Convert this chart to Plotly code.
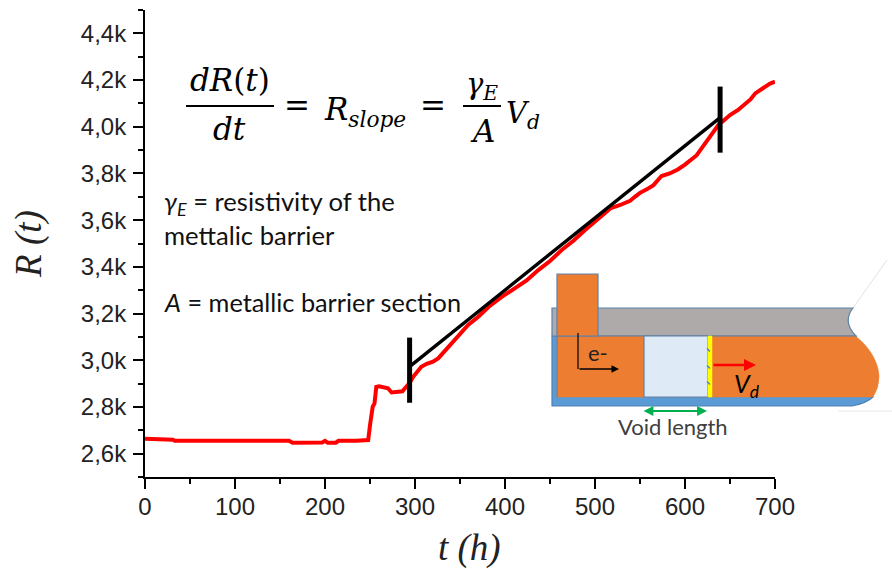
import plotly.graph_objects as go

# ---- chart data ----
t_hours = [0, 29, 31, 33, 100, 160, 164, 190, 197, 200, 203, 212, 215, 235, 244, 248, 250, 253, 255, 257, 260, 265, 270, 274, 281, 286, 289, 294,
           298, 303, 307, 313, 320, 326, 333, 339, 349, 359, 370, 382, 396, 411, 424, 437, 450, 463, 476, 489, 499, 508, 517, 528, 539, 545, 550, 558, 565, 570, 574, 583, 592, 600, 609, 613, 617, 622, 626, 632, 637, 644, 650, 659, 668, 673, 678, 683, 688, 694, 700]
resistance = [2664, 2664, 2660, 2655, 2655, 2655, 2647, 2647, 2648, 2655, 2647, 2647, 2655, 2655, 2655, 2658, 2722, 2801, 2815, 2886, 2888, 2882, 2880, 2862, 2865, 2867, 2881, 2902,
              2929, 2952, 2972, 2985, 2994, 3009, 3040, 3065, 3105, 3151, 3185, 3229, 3270, 3309, 3342, 3386, 3425, 3472, 3512, 3558, 3590, 3622, 3650, 3665, 3683, 3702, 3717, 3733, 3750, 3772, 3789, 3800, 3817, 3838, 3865, 3878, 3900, 3928, 3950, 3982, 4007, 4030, 4050, 4072, 4100, 4118, 4143, 4155, 4171, 4184, 4193]

fit_t = [294, 639]
fit_r = [2973, 4039]
bar_left_t = [294, 294]
bar_left_r = [2818, 3097]
bar_right_t = [639, 639]
bar_right_r = [3889, 4172]

x_ticks = [0, 100, 200, 300, 400, 500, 600, 700]
y_ticks = [2600, 2800, 3000, 3200, 3400, 3600, 3800, 4000, 4200, 4400]
y_labels = ["2,6k", "2,8k", "3,0k", "3,2k", "3,4k", "3,6k", "3,8k", "4,0k", "4,2k", "4,4k"]

W, H = 892, 569
L, R, T, B = 145, 117, 10, 92
PW, PH = W - L - R, H - T - B


def px(x):
    return (x - L) / PW


def py(y):
    return 1 - (y - T) / PH


fig = go.Figure()
fig.add_trace(go.Scatter(x=t_hours, y=resistance, mode="lines", line=dict(color="#ff0000", width=4), showlegend=False))
fig.add_trace(go.Scatter(x=fit_t, y=fit_r, mode="lines", line=dict(color="#000000", width=3.4), showlegend=False))
fig.add_trace(go.Scatter(x=bar_left_t, y=bar_left_r, mode="lines", line=dict(color="#000000", width=5), showlegend=False))
fig.add_trace(go.Scatter(x=bar_right_t, y=bar_right_r, mode="lines", line=dict(color="#000000", width=5), showlegend=False))


def path(points, close=True):
    s = ""
    for p in points:
        if isinstance(p, str):
            s += p + " "
        else:
            s += f"{px(p[0]):.5f},{py(p[1]):.5f} "
    return s + ("Z" if close else "")


EDGE = "#5b82ad"
shapes = []


def add_path(points, fill, edge=EDGE, w=1.2):
    shapes.append(dict(type="path", xref="paper", yref="paper", path=path(points), fillcolor=fill,
                       line=dict(color=edge, width=w), layer="above"))


def add_rect(x0, y0, x1, y1, fill, edge=EDGE, w=1.2):
    add_path(["M", (x0, y0), "L", (x1, y0), "L", (x1, y1), "L", (x0, y1)], fill, edge, w)


def add_line(x0, y0, x1, y1, color, w):
    shapes.append(dict(type="line", xref="paper", yref="paper", x0=px(x0), y0=py(y0), x1=px(x1), y1=py(y1),
                       line=dict(color=color, width=w), layer="above"))


# inset diagram
add_line(887, 260, 853, 308, "#e2e2e2", 1)
add_line(838, 411, 892, 411, "#e8e8e8", 1)
add_path(["M", (552, 336), "L", (856, 336), "L", (873, 397), "Q", (867, 403), (852, 406), "L", (552, 406)], "#5b9bd5", "#4f81b5")
add_path(["M", (552, 308), "L", (853, 308), "Q", (842, 322), (856, 336), "L", (552, 336)], "#aeaaaa")
add_path(["M", (557, 336), "L", (855, 336), "C", (868, 345), (879, 362), (879, 377), "Q", (879, 388), (873, 397), "L", (557, 397)], "#ed7d31", "#ed7d31", 0.5)
add_line(557, 336, 855, 336, EDGE, 1.2)
add_line(557, 336, 557, 397, EDGE, 1.2)
add_rect(557, 274, 598, 336, "#ed7d31")
add_rect(644, 336, 708, 397, "#deebf7")
add_rect(708, 336, 712, 397, "#ffff00", "#ffff00", 0.5)
for dot_y in (350, 367, 383):
    add_line(707, dot_y - 1.5, 710, dot_y + 1.5, "#5b82ad", 1.5)
add_line(578, 333, 578, 369, "#000000", 1.2)

annotations = []


def text(x, y, s, size, family="Lato", color="#111111", xanchor="center", yanchor="middle"):
    annotations.append(dict(x=px(x), y=py(y), xref="paper", yref="paper", text=s, showarrow=False,
                            xanchor=xanchor, yanchor=yanchor, font=dict(size=size, family=family, color=color)))


def arrow(x0, y0, x1, y1, color, w, side="end", size=1.0):
    annotations.append(dict(x=px(x1), y=py(y1), xref="paper", yref="paper", axref="pixel", ayref="pixel",
                            ax=x0 - x1, ay=y0 - y1, text="", showarrow=True, arrowcolor=color, arrowwidth=w,
                            arrowhead=2, startarrowhead=2, arrowside=side, arrowsize=size, startarrowsize=size))


arrow(578, 369, 619, 369, "#000000", 1.5)
arrow(712, 365, 756, 365, "#ff0000", 2.4)
arrow(642, 411, 707, 411, "#00b050", 2.2, side="end+start", size=0.9)

MATH = "DejaVu Serif"
text(598, 352, "e-", 22, color="#222222")
text(747, 385, "<i>V<sub>d</sub></i>", 25, "Lato", "#000000")
text(673, 426, "Void length", 22, color="#404040")

# equation
text(230, 80, "<i>dR</i>(<i>t</i>)", 31, MATH, "#000000")
text(229, 129, "<i>dt</i>", 31, MATH, "#000000")
add_line(186, 106, 274, 106, "#000000", 2)
text(297, 105, "=", 31, MATH, "#000000")
text(365, 112, "<i>R<sub>slope</sub></i>", 31, MATH, "#000000")
text(433, 105, "=", 31, MATH, "#000000")
text(482, 86, "<i>γ<sub>E</sub></i>", 29, MATH, "#000000")
text(482, 131, "<i>A</i>", 31, MATH, "#000000")
add_line(463, 106, 501, 106, "#000000", 2)
text(523, 115, "<i>V<sub>d</sub></i>", 29, MATH, "#000000")

# descriptive text
text(162, 203, "<i>γ<sub>E</sub></i> = resistivity of the", 25.6, xanchor="left")
text(162, 235, "mettalic barrier", 25.6, xanchor="left")
text(162, 302, "<i>A</i> = metallic barrier section", 25.3, xanchor="left")

axis_common = dict(
    showgrid=False, zeroline=False, showline=True, linecolor="#000000", linewidth=2,
    ticks="outside", ticklen=10, tickwidth=2, tickcolor="#000000",
    tickfont=dict(family="Liberation Sans", size=24, color="#222222"),
)

fig.update_layout(
    width=W, height=H, autosize=False,
    margin=dict(l=L, r=R, t=T, b=B, autoexpand=False),
    paper_bgcolor="#ffffff", plot_bgcolor="#ffffff",
    showlegend=False,
    shapes=shapes, annotations=annotations,
    xaxis=dict(range=[0, 700], tickvals=x_ticks, ticktext=[str(v) for v in x_ticks], ticklabelstandoff=-3,
               minor=dict(tickvals=[50, 150, 250, 350, 450, 550, 650], ticks="outside", ticklen=5, tickwidth=2, tickcolor="#000000"),
               title=dict(text="&nbsp;&nbsp;<i>t (h)</i>", standoff=16, font=dict(family="Liberation Serif", size=37, color="#222222")),
               **axis_common),
    yaxis=dict(range=[2500, 4500], tickvals=y_ticks, ticktext=y_labels, ticklabelstandoff=2,
               minor=dict(tickvals=[2500, 2700, 2900, 3100, 3300, 3500, 3700, 3900, 4100, 4300, 4500], ticks="outside", ticklen=5, tickwidth=2, tickcolor="#000000"),
               title=dict(text="<i>R (t)</i>", standoff=28, font=dict(family="Liberation Serif", size=37, color="#222222")),
               **axis_common),
)

fig.write_html("out.html", config={"displayModeBar": False},
               post_script="document.body.style.margin='0';document.documentElement.style.overflow='hidden';")
